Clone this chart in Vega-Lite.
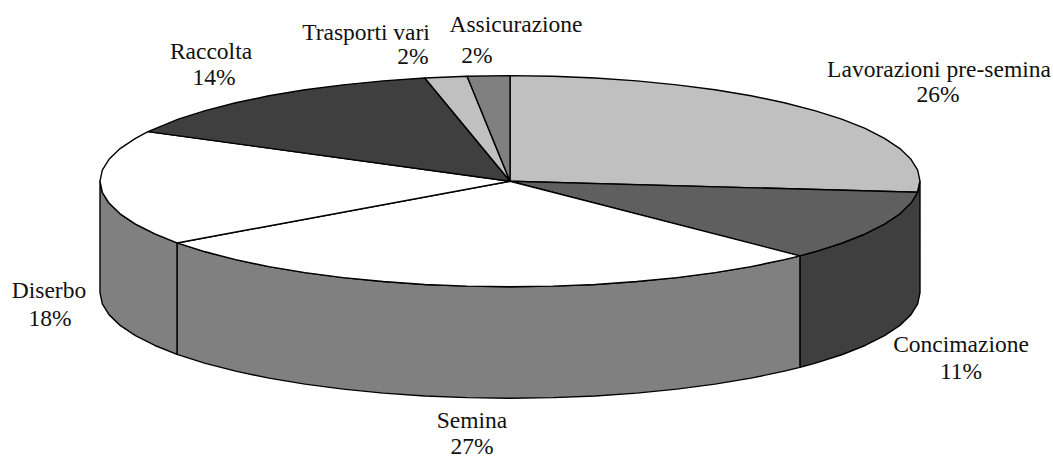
{"$schema":"https://vega.github.io/schema/vega-lite/v6.json","width":1053,"height":459,"autosize":{"type":"fit","contains":"padding"},"padding":0,"background":"white","view":{"stroke":null},
"datasets":{"fette":[
{"parte":"Lavorazioni pre-semina","n":0,"x":510,"y":182},{"parte":"Lavorazioni pre-semina","n":1,"x":510,"y":76},{"parte":"Lavorazioni pre-semina","n":2,"x":552.9,"y":76.6},{"parte":"Lavorazioni pre-semina","n":3,"x":595.2,"y":78.3},{"parte":"Lavorazioni pre-semina","n":4,"x":636.7,"y":81.2},{"parte":"Lavorazioni pre-semina","n":5,"x":676.8,"y":85.2},{"parte":"Lavorazioni pre-semina","n":6,"x":715,"y":90.2},{"parte":"Lavorazioni pre-semina","n":7,"x":751,"y":96.2},{"parte":"Lavorazioni pre-semina","n":8,"x":784.3,"y":103.2},{"parte":"Lavorazioni pre-semina","n":9,"x":814.7,"y":111.1},{"parte":"Lavorazioni pre-semina","n":10,"x":841.7,"y":119.7},{"parte":"Lavorazioni pre-semina","n":11,"x":865.1,"y":129},{"parte":"Lavorazioni pre-semina","n":12,"x":884.5,"y":138.9},{"parte":"Lavorazioni pre-semina","n":13,"x":899.9,"y":149.2},{"parte":"Lavorazioni pre-semina","n":14,"x":911,"y":160},{"parte":"Lavorazioni pre-semina","n":15,"x":917.7,"y":170.9},{"parte":"Lavorazioni pre-semina","n":16,"x":920,"y":182},{"parte":"Lavorazioni pre-semina","n":17,"x":917.7,"y":193.1},{"parte":"Lavorazioni pre-semina","n":18,"x":510,"y":182},
{"parte":"Concimazione fianco","n":0,"x":920,"y":182},{"parte":"Concimazione fianco","n":1,"x":917.7,"y":193.1},{"parte":"Concimazione fianco","n":2,"x":911,"y":204},{"parte":"Concimazione fianco","n":3,"x":899.9,"y":214.8},{"parte":"Concimazione fianco","n":4,"x":884.5,"y":225.1},{"parte":"Concimazione fianco","n":5,"x":865.1,"y":235},{"parte":"Concimazione fianco","n":6,"x":841.7,"y":244.3},{"parte":"Concimazione fianco","n":7,"x":814.7,"y":252.9},{"parte":"Concimazione fianco","n":8,"x":799.9,"y":257},{"parte":"Concimazione fianco","n":9,"x":799.9,"y":369},{"parte":"Concimazione fianco","n":10,"x":814.7,"y":364.9},{"parte":"Concimazione fianco","n":11,"x":841.7,"y":356.3},{"parte":"Concimazione fianco","n":12,"x":865.1,"y":347},{"parte":"Concimazione fianco","n":13,"x":884.5,"y":337.1},{"parte":"Concimazione fianco","n":14,"x":899.9,"y":326.8},{"parte":"Concimazione fianco","n":15,"x":911,"y":316},{"parte":"Concimazione fianco","n":16,"x":917.7,"y":305.1},{"parte":"Concimazione fianco","n":17,"x":920,"y":294},{"parte":"Concimazione fianco","n":18,"x":920,"y":182},
{"parte":"Semina fianco","n":0,"x":799.9,"y":257},{"parte":"Semina fianco","n":1,"x":784.3,"y":260.8},{"parte":"Semina fianco","n":2,"x":751,"y":267.8},{"parte":"Semina fianco","n":3,"x":715,"y":273.8},{"parte":"Semina fianco","n":4,"x":676.8,"y":278.8},{"parte":"Semina fianco","n":5,"x":636.7,"y":282.8},{"parte":"Semina fianco","n":6,"x":595.2,"y":285.7},{"parte":"Semina fianco","n":7,"x":552.9,"y":287.4},{"parte":"Semina fianco","n":8,"x":510,"y":288},{"parte":"Semina fianco","n":9,"x":467.1,"y":287.4},{"parte":"Semina fianco","n":10,"x":424.8,"y":285.7},{"parte":"Semina fianco","n":11,"x":383.3,"y":282.8},{"parte":"Semina fianco","n":12,"x":343.2,"y":278.8},{"parte":"Semina fianco","n":13,"x":305,"y":273.8},{"parte":"Semina fianco","n":14,"x":269,"y":267.8},{"parte":"Semina fianco","n":15,"x":235.7,"y":260.8},{"parte":"Semina fianco","n":16,"x":205.3,"y":252.9},{"parte":"Semina fianco","n":17,"x":177,"y":244},{"parte":"Semina fianco","n":18,"x":177,"y":356},{"parte":"Semina fianco","n":19,"x":205.3,"y":364.9},{"parte":"Semina fianco","n":20,"x":235.7,"y":372.8},{"parte":"Semina fianco","n":21,"x":269,"y":379.8},{"parte":"Semina fianco","n":22,"x":305,"y":385.8},{"parte":"Semina fianco","n":23,"x":343.2,"y":390.8},{"parte":"Semina fianco","n":24,"x":383.3,"y":394.8},{"parte":"Semina fianco","n":25,"x":424.8,"y":397.7},{"parte":"Semina fianco","n":26,"x":467.1,"y":399.4},{"parte":"Semina fianco","n":27,"x":510,"y":400},{"parte":"Semina fianco","n":28,"x":552.9,"y":399.4},{"parte":"Semina fianco","n":29,"x":595.2,"y":397.7},{"parte":"Semina fianco","n":30,"x":636.7,"y":394.8},{"parte":"Semina fianco","n":31,"x":676.8,"y":390.8},{"parte":"Semina fianco","n":32,"x":715,"y":385.8},{"parte":"Semina fianco","n":33,"x":751,"y":379.8},{"parte":"Semina fianco","n":34,"x":784.3,"y":372.8},{"parte":"Semina fianco","n":35,"x":799.9,"y":369},{"parte":"Semina fianco","n":36,"x":799.9,"y":257},
{"parte":"Diserbo fianco","n":0,"x":177,"y":244},{"parte":"Diserbo fianco","n":1,"x":154.9,"y":235},{"parte":"Diserbo fianco","n":2,"x":135.5,"y":225.1},{"parte":"Diserbo fianco","n":3,"x":120.1,"y":214.8},{"parte":"Diserbo fianco","n":4,"x":109,"y":204},{"parte":"Diserbo fianco","n":5,"x":102.3,"y":193.1},{"parte":"Diserbo fianco","n":6,"x":100,"y":182},{"parte":"Diserbo fianco","n":7,"x":100,"y":294},{"parte":"Diserbo fianco","n":8,"x":102.3,"y":305.1},{"parte":"Diserbo fianco","n":9,"x":109,"y":316},{"parte":"Diserbo fianco","n":10,"x":120.1,"y":326.8},{"parte":"Diserbo fianco","n":11,"x":135.5,"y":337.1},{"parte":"Diserbo fianco","n":12,"x":154.9,"y":347},{"parte":"Diserbo fianco","n":13,"x":177,"y":356},{"parte":"Diserbo fianco","n":14,"x":177,"y":244},
{"parte":"Concimazione","n":0,"x":510,"y":182},{"parte":"Concimazione","n":1,"x":917.7,"y":193.1},{"parte":"Concimazione","n":2,"x":911,"y":204},{"parte":"Concimazione","n":3,"x":899.9,"y":214.8},{"parte":"Concimazione","n":4,"x":884.5,"y":225.1},{"parte":"Concimazione","n":5,"x":865.1,"y":235},{"parte":"Concimazione","n":6,"x":841.7,"y":244.3},{"parte":"Concimazione","n":7,"x":814.7,"y":252.9},{"parte":"Concimazione","n":8,"x":799.9,"y":257},{"parte":"Concimazione","n":9,"x":510,"y":182},
{"parte":"Semina","n":0,"x":510,"y":182},{"parte":"Semina","n":1,"x":799.9,"y":257},{"parte":"Semina","n":2,"x":784.3,"y":260.8},{"parte":"Semina","n":3,"x":751,"y":267.8},{"parte":"Semina","n":4,"x":715,"y":273.8},{"parte":"Semina","n":5,"x":676.8,"y":278.8},{"parte":"Semina","n":6,"x":636.7,"y":282.8},{"parte":"Semina","n":7,"x":595.2,"y":285.7},{"parte":"Semina","n":8,"x":552.9,"y":287.4},{"parte":"Semina","n":9,"x":510,"y":288},{"parte":"Semina","n":10,"x":467.1,"y":287.4},{"parte":"Semina","n":11,"x":424.8,"y":285.7},{"parte":"Semina","n":12,"x":383.3,"y":282.8},{"parte":"Semina","n":13,"x":343.2,"y":278.8},{"parte":"Semina","n":14,"x":305,"y":273.8},{"parte":"Semina","n":15,"x":269,"y":267.8},{"parte":"Semina","n":16,"x":235.7,"y":260.8},{"parte":"Semina","n":17,"x":205.3,"y":252.9},{"parte":"Semina","n":18,"x":177,"y":244},{"parte":"Semina","n":19,"x":510,"y":182},
{"parte":"Diserbo","n":0,"x":510,"y":182},{"parte":"Diserbo","n":1,"x":177,"y":244},{"parte":"Diserbo","n":2,"x":154.9,"y":235},{"parte":"Diserbo","n":3,"x":135.5,"y":225.1},{"parte":"Diserbo","n":4,"x":120.1,"y":214.8},{"parte":"Diserbo","n":5,"x":109,"y":204},{"parte":"Diserbo","n":6,"x":102.3,"y":193.1},{"parte":"Diserbo","n":7,"x":100,"y":182},{"parte":"Diserbo","n":8,"x":102.3,"y":170.9},{"parte":"Diserbo","n":9,"x":109,"y":160},{"parte":"Diserbo","n":10,"x":120.1,"y":149.2},{"parte":"Diserbo","n":11,"x":135.5,"y":138.9},{"parte":"Diserbo","n":12,"x":148,"y":132.2},{"parte":"Diserbo","n":13,"x":510,"y":182},
{"parte":"Raccolta","n":0,"x":510,"y":182},{"parte":"Raccolta","n":1,"x":148,"y":132.2},{"parte":"Raccolta","n":2,"x":178.3,"y":119.7},{"parte":"Raccolta","n":3,"x":205.3,"y":111.1},{"parte":"Raccolta","n":4,"x":235.7,"y":103.2},{"parte":"Raccolta","n":5,"x":269,"y":96.2},{"parte":"Raccolta","n":6,"x":305,"y":90.2},{"parte":"Raccolta","n":7,"x":343.2,"y":85.2},{"parte":"Raccolta","n":8,"x":383.3,"y":81.2},{"parte":"Raccolta","n":9,"x":424.8,"y":78.3},{"parte":"Raccolta","n":10,"x":510,"y":182},
{"parte":"Trasporti vari","n":0,"x":510,"y":182},{"parte":"Trasporti vari","n":1,"x":424.8,"y":78.3},{"parte":"Trasporti vari","n":2,"x":467.1,"y":76.6},{"parte":"Trasporti vari","n":3,"x":510,"y":182},
{"parte":"Assicurazione","n":0,"x":510,"y":182},{"parte":"Assicurazione","n":1,"x":467.1,"y":76.6},{"parte":"Assicurazione","n":2,"x":510,"y":76},{"parte":"Assicurazione","n":3,"x":510,"y":182}
],
"etichette":[
{"voce":"Lavorazioni pre-semina","quota":0.26,"xv":939,"yv":70,"xq":938,"yq":95},
{"voce":"Concimazione","quota":0.11,"xv":961,"yv":347,"xq":961,"yq":374},
{"voce":"Semina","quota":0.27,"xv":472,"yv":423,"xq":472,"yq":449},
{"voce":"Diserbo","quota":0.18,"xv":49,"yv":292,"xq":50,"yq":320},
{"voce":"Raccolta","quota":0.14,"xv":211,"yv":52,"xq":214,"yq":78},
{"voce":"Trasporti vari","quota":0.02,"xv":366,"yv":33,"xq":413,"yq":57},
{"voce":"Assicurazione","quota":0.02,"xv":516,"yv":25,"xq":477,"yq":56}
]},
"layer":[
{"data":{"name":"fette"},"mark":{"type":"line","stroke":"black","strokeWidth":1.4,"strokeJoin":"round","interpolate":"linear"},
"encoding":{"x":{"field":"x","type":"quantitative","scale":{"domain":[0,1053],"nice":false,"zero":false},"axis":null},"y":{"field":"y","type":"quantitative","scale":{"domain":[459,0],"nice":false,"zero":false},"axis":null},"order":{"field":"n","type":"quantitative"},"detail":{"field":"parte","type":"nominal"},
"fill":{"field":"parte","type":"nominal","legend":null,"scale":{"domain":["Lavorazioni pre-semina","Concimazione fianco","Semina fianco","Diserbo fianco","Concimazione","Semina","Diserbo","Raccolta","Trasporti vari","Assicurazione"],"range":["#c0c0c0","#3f3f3f","#808080","#808080","#5f5f5f","#ffffff","#ffffff","#3f3f3f","#c0c0c0","#808080"]}}}},
{"data":{"name":"etichette"},"mark":{"type":"text","font":"Liberation Serif","fontSize":23.5,"color":"#111111","align":"center","baseline":"middle"},
"encoding":{"x":{"field":"xv","type":"quantitative"},"y":{"field":"yv","type":"quantitative"},"text":{"field":"voce","type":"nominal"}}},
{"data":{"name":"etichette"},"mark":{"type":"text","font":"Liberation Serif","fontSize":23.5,"color":"#111111","align":"center","baseline":"middle"},
"encoding":{"x":{"field":"xq","type":"quantitative"},"y":{"field":"yq","type":"quantitative"},"text":{"field":"quota","type":"quantitative","format":".0%"}}}
]}
